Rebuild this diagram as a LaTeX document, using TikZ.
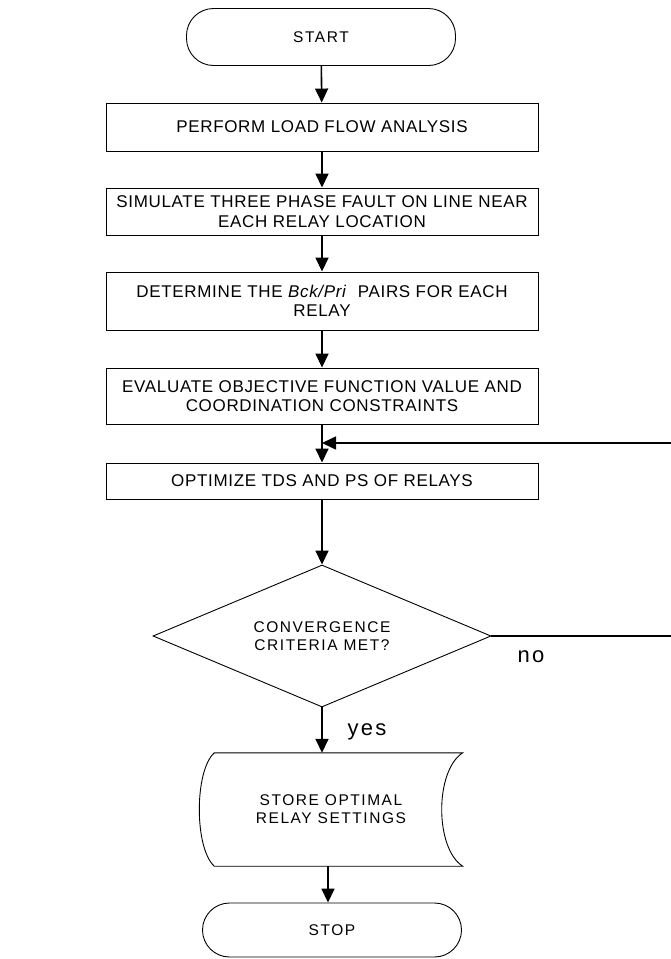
\documentclass[tikz,border=0pt]{standalone}
\usepackage{fontspec}
\setmainfont{Liberation Sans}[LetterSpace=10]
\usetikzlibrary{shapes.geometric,arrows.meta}
\begin{document}
\begin{tikzpicture}[x=1pt,y=-1pt,
  every node/.style={font=\fontsize{15.5}{18}\selectfont, align=center, inner sep=0pt},
  procbox/.style={draw, line width=0.9pt, minimum width=432pt, font=\fontsize{17}{19.5}\selectfont\addfontfeature{LetterSpace=4}},
  term/.style={draw, line width=0.9pt, rounded corners=27pt},
  arr/.style={line width=1.6pt, -{Triangle[width=13pt,length=14pt]}},
  lbl/.style={font=\fontsize{22}{24}\selectfont}]
\useasboundingbox (0,0) rectangle (671,959);
\node[term, minimum width=269pt, minimum height=57pt] (start) at (321,37) {START};
\node[procbox, minimum height=48pt] (b1) at (322,127) {PERFORM LOAD FLOW ANALYSIS};
\node[procbox, minimum height=47pt] (b2) at (322,211.5) {SIMULATE THREE PHASE FAULT ON LINE NEAR\\EACH RELAY LOCATION};
\node[procbox, minimum height=58pt] (b3) at (322,301) {DETERMINE THE \textit{Bck/Pri}\ \ PAIRS FOR EACH\\RELAY};
\node[procbox, minimum height=56pt] (b4) at (322,396) {EVALUATE OBJECTIVE FUNCTION VALUE AND\\COORDINATION CONSTRAINTS};
\node[procbox, minimum height=36pt] (b5) at (322,481) {OPTIMIZE TDS AND PS OF RELAYS};
\node[draw, line width=0.9pt, diamond, aspect=2.38, minimum width=338pt, minimum height=142pt] (dec) at (322,636) {CONVERGENCE\\CRITERIA MET?};
\node[minimum width=263pt, minimum height=113pt] (store) at (331,809.5) {STORE OPTIMAL\\RELAY SETTINGS};
\draw[line width=0.9pt] ([xshift=15pt]store.north west) -- (store.north east)
  .. controls +(-28,18) and +(-28,-18) .. (store.south east)
  -- ([xshift=15pt]store.south west)
  .. controls +(-20,-18) and +(-20,18) .. ([xshift=15pt]store.north west) -- cycle;
\node[term, minimum width=259pt, minimum height=54pt] (stop) at (332,930) {STOP};
\coordinate (fbR) at (675,636);
\coordinate (join) at (322,443);
\draw[arr] (start) -- (b1);
\draw[arr] (b1) -- (b2);
\draw[arr] (b2) -- (b3);
\draw[arr] (b3) -- (b4);
\draw[arr] (b4) -- (b5);
\draw[arr] (b5) -- (dec);
\draw[arr] (dec.south) -- (dec.south |- store.north);
\draw[arr] (store.south -| 328,0) -- (stop.north -| 328,0);
\draw[arr] (dec.east) -- (dec.east -| fbR) -- (fbR |- join) -- (join);
\node[lbl] (no) at (531,657) {no};
\node[lbl] (yes) at (367,732) {yes};
\end{tikzpicture}
\end{document}
